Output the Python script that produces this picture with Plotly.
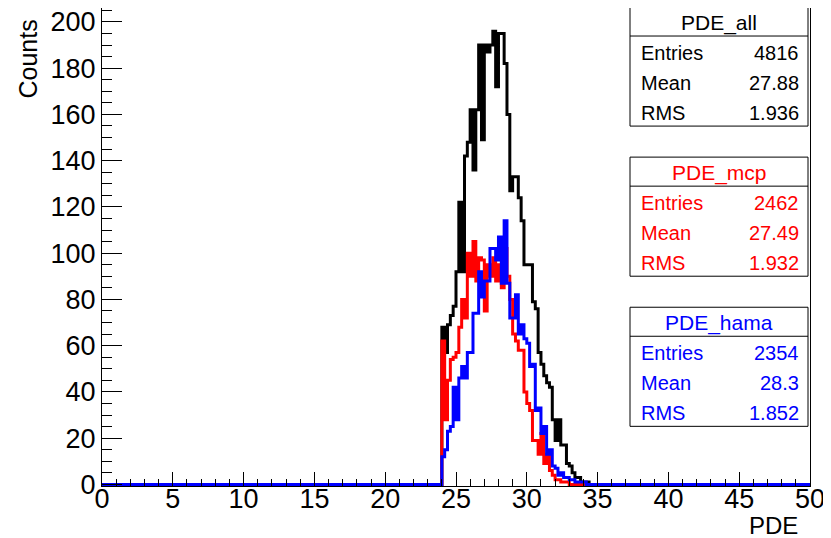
import numpy as np
import plotly.graph_objects as go

# ---------------- data ----------------
bin_width = 0.2
x_low, x_high = 0.0, 50.0
first_filled_bin_low = 24.0   # PDE value where the non-empty bins start

# counts per 0.2-wide bin, starting at PDE = 24.0
pde_all = [68, 57, 69, 73, 77, 92, 122, 92, 142, 148,
           162, 136, 162, 190, 149, 190, 187, 190, 196, 172,
           195, 195, 182, 160, 127, 133, 133, 124, 114, 95,
           95, 95, 79, 76, 57, 52, 47, 44, 42, 28,
           19, 28, 17, 17, 9, 8, 5, 3, 3, 1, 1, 1]
pde_mcp = [62, 28, 45, 54, 55, 57, 68, 80, 72, 100,
           90, 105, 88, 98, 97, 75, 95, 90, 98, 88,
           95, 85, 102, 90, 80, 65, 62, 58, 58, 40,
           35, 32, 19, 19, 13, 22, 9, 13, 6, 4,
           2, 2, 1, 1, 1]
pde_hama = [12, 15, 23, 25, 42, 28, 46, 51, 46, 57,
            57, 74, 74, 92, 81, 88, 88, 102, 102, 97,
            107, 87, 114, 87, 72, 72, 82, 65, 69, 63,
            61, 51, 52, 32, 33, 22, 25, 13, 15, 8,
            7, 4, 5, 3, 3, 2, 2, 1, 1, 1, 1]

stats = [
    ("PDE_all", "#000000", [("Entries", "4816"), ("Mean", "27.88"), ("RMS", "1.936")]),
    ("PDE_mcp", "#ff0000", [("Entries", "2462"), ("Mean", "27.49"), ("RMS", "1.932")]),
    ("PDE_hama", "#0000ff", [("Entries", "2354"), ("Mean", "28.3"), ("RMS", "1.852")]),
]

x_tick_vals = list(range(0, 51, 5))
y_tick_vals = list(range(0, 201, 20))
y_max = 206.0

# ---------------- helpers ----------------
n_bins = int(round((x_high - x_low) / bin_width))
edges = np.round(np.linspace(x_low, x_high, n_bins + 1), 4)
start_idx = int(round((first_filled_bin_low - x_low) / bin_width))


def full_counts(vals):
    c = np.zeros(n_bins)
    c[start_idx:start_idx + len(vals)] = vals
    return np.append(c, c[-1])


fig = go.Figure()
for vals, col in [(pde_all, "#000000"), (pde_mcp, "#ff0000"), (pde_hama, "#0000ff")]:
    fig.add_trace(go.Scatter(x=edges, y=full_counts(vals), mode="lines",
                             line=dict(shape="hv", color=col, width=3),
                             showlegend=False, hoverinfo="skip"))

# ---------------- layout ----------------
OFF = 8            # page body margin in the browser
W, H = 831 - OFF, 538 - OFF
L, R = 102 - OFF, 810 - OFF
y0_px = 484 - OFF
px_per_unit = (484 - 7) / y_max
y_min = -0.7
B = y0_px + (0 - y_min) * px_per_unit
T = max(0, y0_px - y_max * px_per_unit)

font_family = "Liberation Sans, Arial, Helvetica, sans-serif"

fig.update_layout(
    width=W, height=H,
    margin=dict(l=L, r=W - R, t=T, b=H - B, pad=0, autoexpand=False),
    paper_bgcolor="white", plot_bgcolor="white",
    font=dict(family=font_family, color="black"),
    showlegend=False,
)
fig.update_xaxes(range=[x_low, x_high], tickvals=x_tick_vals,
                 ticks="inside", ticklen=14, tickwidth=1, tickcolor="black",
                 minor=dict(ticks="inside", ticklen=7, dtick=1, tickcolor="black", tickwidth=1),
                 showline=True, linecolor="black", linewidth=1, mirror=True,
                 showgrid=False, zeroline=False, automargin=False, ticklabelstandoff=-11,
                 ticklabeloverflow="allow",
                 tickfont=dict(size=27, family=font_family, color="black"))
fig.update_yaxes(range=[y_min, y_max], tickvals=y_tick_vals,
                 ticks="inside", ticklen=20, tickwidth=1, tickcolor="black",
                 minor=dict(ticks="inside", ticklen=10, dtick=5, tickcolor="black", tickwidth=1),
                 showline=True, linecolor="black", linewidth=1, mirror=True,
                 showgrid=False, zeroline=False, automargin=False, ticklabelstandoff=0,
                 ticklabeloverflow="allow",
                 tickfont=dict(size=27, family=font_family, color="black"))

pw = R - L
ph = B - T


def px_x(x):
    return (x - OFF - L) / pw


def px_y(y):
    return (B - (y - OFF)) / ph


# axis titles
fig.add_annotation(text="Counts", xref="paper", yref="paper", x=px_x(44), y=px_y(18),
                   xanchor="right", yanchor="top", textangle=-90, showarrow=False,
                   font=dict(size=25, family=font_family, color="black"))
fig.add_annotation(text="PDE", xref="paper", yref="paper", x=px_x(800), y=px_y(510),
                   xanchor="right", yanchor="top", showarrow=False,
                   font=dict(size=24, family=font_family, color="black"))

# stats boxes
box_left, box_right = 630, 808
box_tops = [7, 157, 307]
box_h = 119
title_h = 29
row_h = 30
for (title, col, rows), top in zip(stats, box_tops):
    fig.add_shape(type="rect", xref="paper", yref="paper",
                  x0=px_x(box_left), x1=px_x(box_right), y0=px_y(top + box_h), y1=px_y(top),
                  line=dict(color="black", width=1), fillcolor="white", layer="above")
    fig.add_shape(type="line", xref="paper", yref="paper",
                  x0=px_x(box_left), x1=px_x(box_right), y0=px_y(top + title_h), y1=px_y(top + title_h),
                  line=dict(color="black", width=1), layer="above")
    fig.add_annotation(text=title, xref="paper", yref="paper",
                       x=px_x((box_left + box_right) / 2), y=px_y(top + title_h / 2 + 1),
                       xanchor="center", yanchor="middle", showarrow=False,
                       font=dict(size=21, family=font_family, color=col))
    for k, (lab, val) in enumerate(rows):
        yc = top + title_h + 17 + k * row_h
        fig.add_annotation(text=lab, xref="paper", yref="paper", x=px_x(box_left + 9), y=px_y(yc),
                           xanchor="left", yanchor="middle", showarrow=False,
                           font=dict(size=20, family=font_family, color=col))
        fig.add_annotation(text=val, xref="paper", yref="paper", x=px_x(box_right - 7), y=px_y(yc),
                           xanchor="right", yanchor="middle", showarrow=False,
                           font=dict(size=20, family=font_family, color=col))

fig.write_html("out.html")
